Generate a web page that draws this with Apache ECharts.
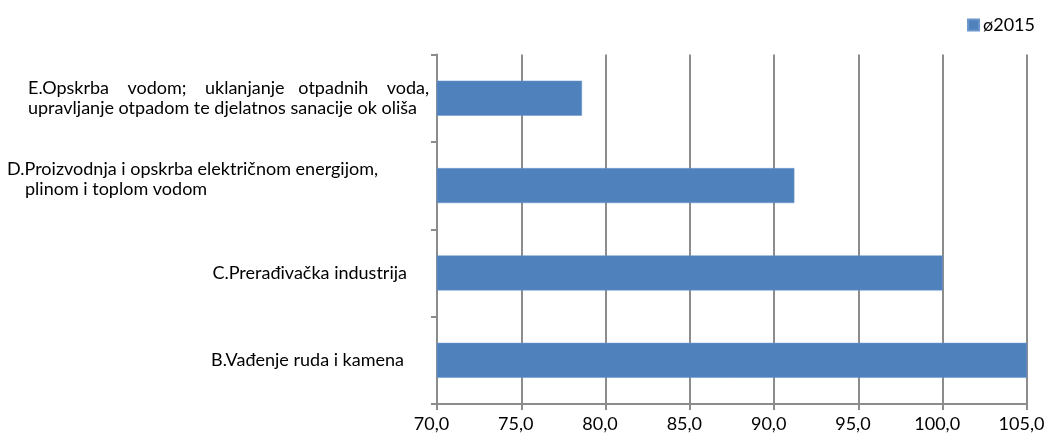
<!DOCTYPE html>
<html>
<head>
<meta charset="utf-8">
<script src="https://cdn.jsdelivr.net/npm/echarts@6/dist/echarts.min.js"></script>
<style>
html,body{margin:0;padding:0;background:#fff;}
#chart{width:1048px;height:438px;}
</style>
</head>
<body>
<div id="chart"></div>
<script>
// Data (bottom to top)
const categories = [
  'B.Vađenje ruda i kamena',
  'C.Prerađivačka industrija',
  'D.Proizvodnja i opskrba električnom energijom,\nplinom i toplom vodom',
  'E.Opskrba    vodom;    uklanjanje   otpadnih    voda,\nupravljanje otpadom te djelatnos sanacije ok oliša'
];
const seriesName = 'ø2015';
const values = [105.0, 100.0, 91.2, 78.6];
const xTicks = { min: 70, max: 105, interval: 5 };

const FONT = 'Lato, "Open Sans", sans-serif';
const GRAY = '#8c8c8c';

// label styling per category index
const labelStyles = [
  { key: 'b', style: { width: 423, align: 'right', padding: [0, 26, 0, 0] } },
  { key: 'c', style: { width: 423, align: 'right', padding: [0, 23, 0, 0] } },
  { key: 'd', style: { width: 423, align: 'left', padding: [0, 0, 12, 0] }, second: { width: 405, align: 'left', padding: [0, 0, 12, 18] } },
  { key: 'e', style: { width: 402, align: 'left', padding: [0, 0, 0, 0] }, second: { width: 402, align: 'left' } }
];
const rich = {};
labelStyles.forEach(s => {
  rich[s.key] = Object.assign({ fontSize: 18, fontFamily: FONT, color: '#000', lineHeight: 20 }, s.style);
  if (s.second) rich[s.key + '2'] = Object.assign({ fontSize: 18, fontFamily: FONT, color: '#000', lineHeight: 20 }, s.second);
});

const chart = echarts.init(document.getElementById('chart'), null, { renderer: 'canvas' });
chart.setOption({
  animation: false,
  backgroundColor: '#fff',
  legend: {
    data: [seriesName],
    right: 8, top: 11,
    icon: 'rect', itemWidth: 11, itemHeight: 11, itemGap: 5,
    textStyle: { fontSize: 18, fontFamily: FONT, color: '#000', padding: [0, 0, 0, -1] }
  },
  grid: { left: 437, right: 21, top: 54.5, bottom: 34, containLabel: false, outerBoundsMode: 'none' },
  xAxis: {
    type: 'value',
    min: xTicks.min, max: xTicks.max, interval: xTicks.interval,
    axisLine: { show: true, lineStyle: { color: GRAY, width: 2 } },
    axisTick: { show: true, length: 6, lineStyle: { color: GRAY, width: 2 } },
    splitLine: { show: true, lineStyle: { color: GRAY, width: 2 } },
    axisLabel: {
      fontSize: 18, fontFamily: FONT, color: '#000', margin: 11,
      padding: [0, 11, 0, 0],
      formatter: v => v.toFixed(1).replace('.', ',')
    }
  },
  yAxis: {
    type: 'category',
    data: categories,
    axisLine: { show: true, lineStyle: { color: GRAY, width: 2 } },
    axisTick: { show: true, length: 6, lineStyle: { color: GRAY, width: 2 } },
    splitLine: { show: false },
    axisLabel: {
      margin: 7,
      formatter: (v, i) => {
        const s = labelStyles[i];
        const lines = v.split('\n');
        return lines.map((l, j) => '{' + (j === 0 || !s.second ? s.key : s.key + '2') + '|' + l + '}').join('\n');
      },
      rich: rich
    }
  },
  series: [{
    name: seriesName,
    type: 'bar',
    data: values,
    barWidth: 35,
    itemStyle: { color: '#4F81BD', borderColor: '#6a96cc', borderWidth: 0.5 }
  }]
});
</script>
</body>
</html>
